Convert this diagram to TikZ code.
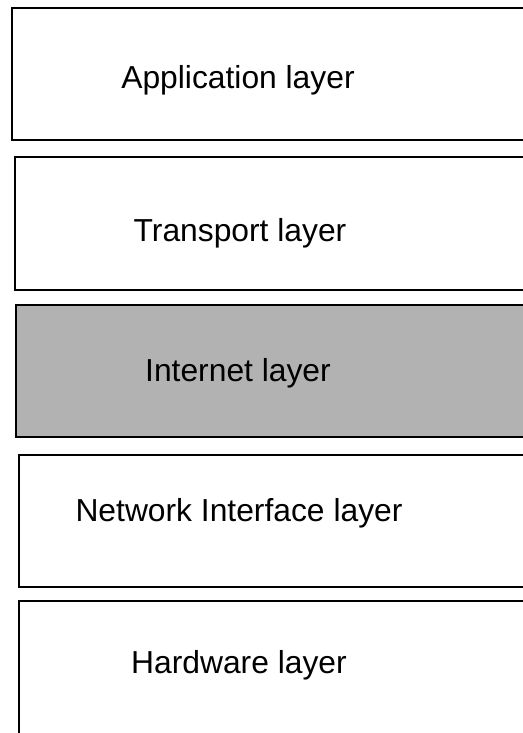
\documentclass[tikz,border=0pt]{standalone}
\usepackage{fontspec}
\setmainfont{Liberation Sans}
\usetikzlibrary{positioning}

\begin{document}
\begin{tikzpicture}[
  x=0.5pt, y=-0.5pt,
  every node/.style={font=\fontsize{15.9}{19}\selectfont},
  layer/.style={draw=black, line width=0.8pt},
  shaded/.style={fill=gray!60},
]
\useasboundingbox (0,0) rectangle (523,733);

% layer frames, open on the right
\draw[layer] (523,8) -| (12,140) -- (523,140);
\draw[layer] (523,157) -| (15,290) -- (523,290);
\fill[shaded] (16,305) rectangle (523,437);
\draw[layer] (523,305) -| (16,437) -- (523,437);
\draw[layer] (523,455) -| (19,587) -- (523,587);
\draw[layer] (523,601) -| (19,733);

% labels
\node (app) at (238,80) {Application layer};
\node (trans) at (240,233) {Transport layer};
\node (inet) at (238,373) {Internet layer};
\node (netif) at (239,513) {Network Interface layer};
\node (hw) at (239,665) {Hardware layer};
\end{tikzpicture}
\end{document}
